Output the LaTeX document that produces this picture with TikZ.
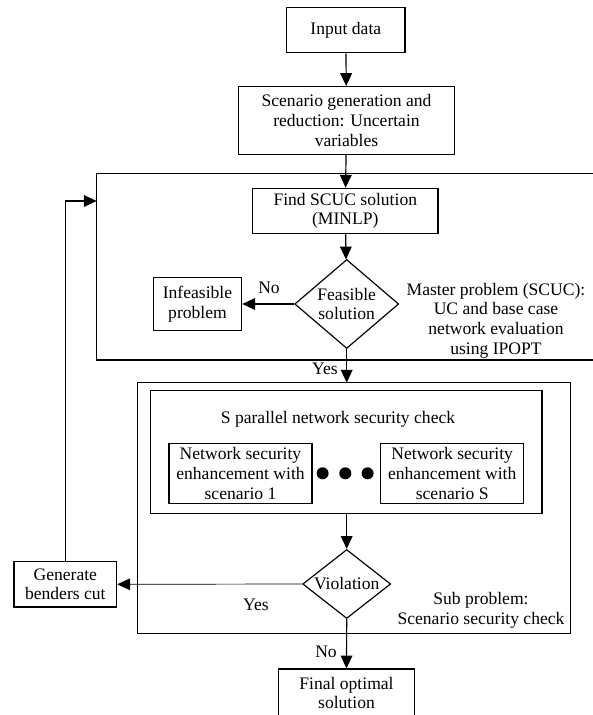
\documentclass[tikz,border=0pt]{standalone}
\usepackage{fontspec}
\setmainfont{Liberation Serif}
\usetikzlibrary{shapes.geometric,arrows.meta}

\begin{document}
\begin{tikzpicture}[
    x=0.03cm, y=-0.03cm,
    font=\fontsize{15}{17}\selectfont,
    line width=1pt,
    >={Triangle[length=11pt,width=10pt]},
    box/.style={draw=black, rectangle, align=center, inner sep=2pt},
    decision/.style={draw=black, diamond, align=center, inner sep=0pt}]
    \useasboundingbox (0,0) rectangle (593,715);

    % NODES
    % main column
    \node[box, minimum width=3.55cm, minimum height=1.36cm] (input) at (345.8,30) {Input data};
    \node[box, minimum width=6.49cm, minimum height=2.03cm] (scen) at (346.5,120.5) {Scenario generation and\\reduction: Uncertain\\variables};
    \node[box, minimum width=5.56cm, minimum height=1.35cm] (scuc) at (345.3,210.8) {Find SCUC solution\\(MINLP)};
    \node[decision, aspect=1.17, minimum width=3.12cm, minimum height=2.67cm] (feas) at (346.7,304) {Feasible\\solution};
    \node[box, minimum width=2.65cm, minimum height=1.60cm] (infeas) at (197.5,304) {Infeasible\\problem};
    \node[align=center] (mastertxt) at (496,320.7) {Master problem (SCUC):\\UC and base case\\network evaluation\\using IPOPT};

    % sub problem
    \node (partxt) at (338,419.3) {S parallel network security check};
    \node[box, minimum width=4.29cm, minimum height=1.8cm] (net1) at (240.5,473.3) {Network security\\enhancement with\\scenario 1};
    \node[box, minimum width=4.28cm, minimum height=1.8cm] (netS) at (452.2,473.3) {Network security\\enhancement with\\scenario S};
    \node[decision, aspect=1.275, minimum width=2.64cm, minimum height=2.07cm] (viol) at (346.7,584) {Violation};
    \node[align=center] (subtxt) at (481,610) {Sub problem:\\Scenario security check};
    \node[box, minimum width=3.08cm, minimum height=1.36cm] (gen) at (65.3,584.3) {Generate\\benders cut};
    \node[box, minimum width=4.09cm, minimum height=1.44cm] (final) at (346.5,693) {Final optimal\\solution};

    % edge labels
    \node (no1) at (269,288) {No};
    \node (yes1) at (325,369) {Yes};
    \node (yes2) at (256,605) {Yes};
    \node (no2) at (326,651.7) {No};

    % frames
    \draw (593,173.3) -| (96.7,360) -- (593,360);
    \draw (137.5,382.7) rectangle (570.3,633.3);
    \draw (150.7,390.7) rectangle (542,513.3);
    \foreach \x in {322.6,345.3,367.6}
        \fill (\x,473.3) circle (0.18cm);

    \coordinate (subtop) at (346.7,382.7);
    \coordinate (innerbot) at (346.7,513.3);
    \coordinate (masterin) at (96.7,201);

    % ARROWS
    \draw[->] (input) -- (scen);
    \draw[->] (scen) -- (scuc);
    \draw[->] (scuc) -- (feas);
    \draw[->] (feas) -- (infeas);
    \draw[->] (feas.south) -- (subtop);
    \draw[->] (innerbot) -- (viol.north);
    \draw[->, line width=0.6pt] (viol.west) -- (gen.east);
    \draw[->] (gen.north) |- (masterin);
    \draw[->] (viol.south) -- (final.north);
\end{tikzpicture}
\end{document}
